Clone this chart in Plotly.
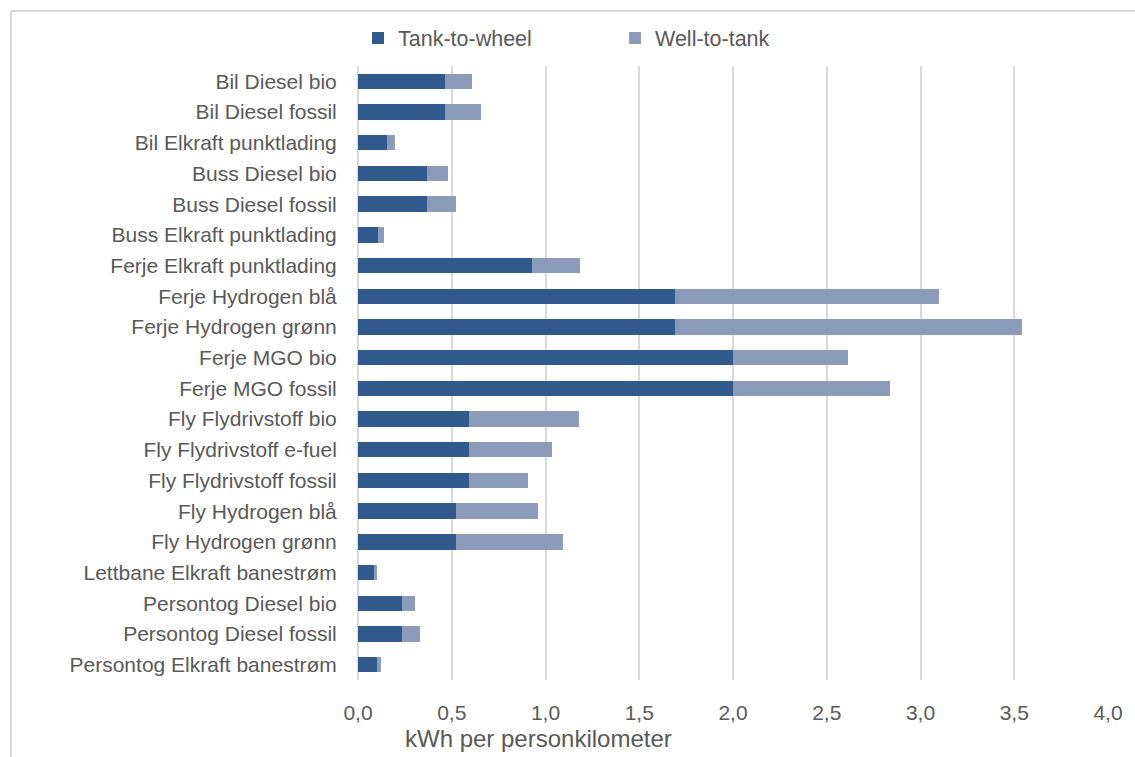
import plotly.graph_objects as go

categories = ["Bil Diesel bio", "Bil Diesel fossil", "Bil Elkraft punktlading",
              "Buss Diesel bio", "Buss Diesel fossil", "Buss Elkraft punktlading",
              "Ferje Elkraft punktlading", "Ferje Hydrogen blå", "Ferje Hydrogen grønn",
              "Ferje MGO bio", "Ferje MGO fossil", "Fly Flydrivstoff bio",
              "Fly Flydrivstoff e-fuel", "Fly Flydrivstoff fossil", "Fly Hydrogen blå",
              "Fly Hydrogen grønn", "Lettbane Elkraft banestrøm", "Persontog Diesel bio",
              "Persontog Diesel fossil", "Persontog Elkraft banestrøm"]

tank_to_wheel = [0.465, 0.465, 0.155, 0.368, 0.368, 0.107, 0.930, 1.693, 1.693, 2.0,
                 2.0, 0.590, 0.590, 0.590, 0.524, 0.524, 0.086, 0.233, 0.233, 0.100]
well_to_tank = [0.141, 0.192, 0.043, 0.113, 0.156, 0.034, 0.254, 1.407, 1.847, 0.614,
                0.839, 0.586, 0.443, 0.315, 0.434, 0.569, 0.014, 0.073, 0.098, 0.023]

x_ticks = [0, 0.5, 1.0, 1.5, 2.0, 2.5, 3.0, 3.5, 4.0]

DARK = "#2F5A8B"
LIGHT = "#8D9BBB"
TXT = "#595959"
GRID = "#D9D9D9"
FONT = "Liberation Sans, Arial, sans-serif"

fig = go.Figure()
fig.add_trace(go.Bar(y=categories, x=tank_to_wheel, orientation="h", name="Tank-to-wheel",
                     marker=dict(color=DARK, line=dict(width=0))))
fig.add_trace(go.Bar(y=categories, x=well_to_tank, orientation="h", name="Well-to-tank",
                     marker=dict(color=LIGHT, line=dict(width=0))))

W, H = 1135, 757
L, R, T, B = 358, 25, 66, 77
pw = W - L - R
ph = H - T - B

def px2paper_x(px):
    return (px - L) / pw

def px2paper_y(py):
    return (H - B - py) / ph

fig.update_layout(
    width=W, height=H,
    margin=dict(l=L, r=R, t=T, b=B, pad=0),
    barmode="stack", bargap=0.5,
    paper_bgcolor="white", plot_bgcolor="white",
    font=dict(family=FONT, size=21, color=TXT),
    separators=",.",
    showlegend=True,
    legend=dict(orientation="h", x=px2paper_x(358), xanchor="left",
                y=px2paper_y(38), yanchor="middle",
                entrywidth=212, entrywidthmode="pixels",
                font=dict(family=FONT, size=21.5, color=TXT),
                bgcolor="rgba(0,0,0,0)", traceorder="normal"),
    xaxis=dict(range=[0, 4.0], tickvals=x_ticks, tickformat=".1f",
               showgrid=True, gridcolor=GRID, gridwidth=2,
               zeroline=True, zerolinecolor=GRID, zerolinewidth=2,
               showline=False, ticks="outside", ticklen=14, tickcolor="rgba(0,0,0,0)",
               tickfont=dict(family=FONT, size=21, color=TXT), fixedrange=True),
    yaxis=dict(categoryorder="array", categoryarray=categories, autorange="reversed",
               showgrid=False, zeroline=False, showline=False,
               ticks="outside", ticklen=16, tickcolor="rgba(0,0,0,0)",
               tickfont=dict(family=FONT, size=21, color=TXT), fixedrange=True),
    annotations=[dict(text="kWh per personkilometer", xref="paper", yref="paper",
                      x=px2paper_x(403), y=px2paper_y(738), xanchor="left", yanchor="middle",
                      showarrow=False, font=dict(family=FONT, size=24, color=TXT))],
    shapes=[
        dict(type="line", xref="paper", yref="paper",
             x0=px2paper_x(10), x1=px2paper_x(10), y0=px2paper_y(11), y1=px2paper_y(H + 5),
             line=dict(color=GRID, width=2)),
        dict(type="line", xref="paper", yref="paper",
             x0=px2paper_x(10), x1=px2paper_x(W + 5), y0=px2paper_y(11), y1=px2paper_y(11),
             line=dict(color=GRID, width=2)),
    ],
)

fig.write_html("out.html", config={"displayModeBar": False})
